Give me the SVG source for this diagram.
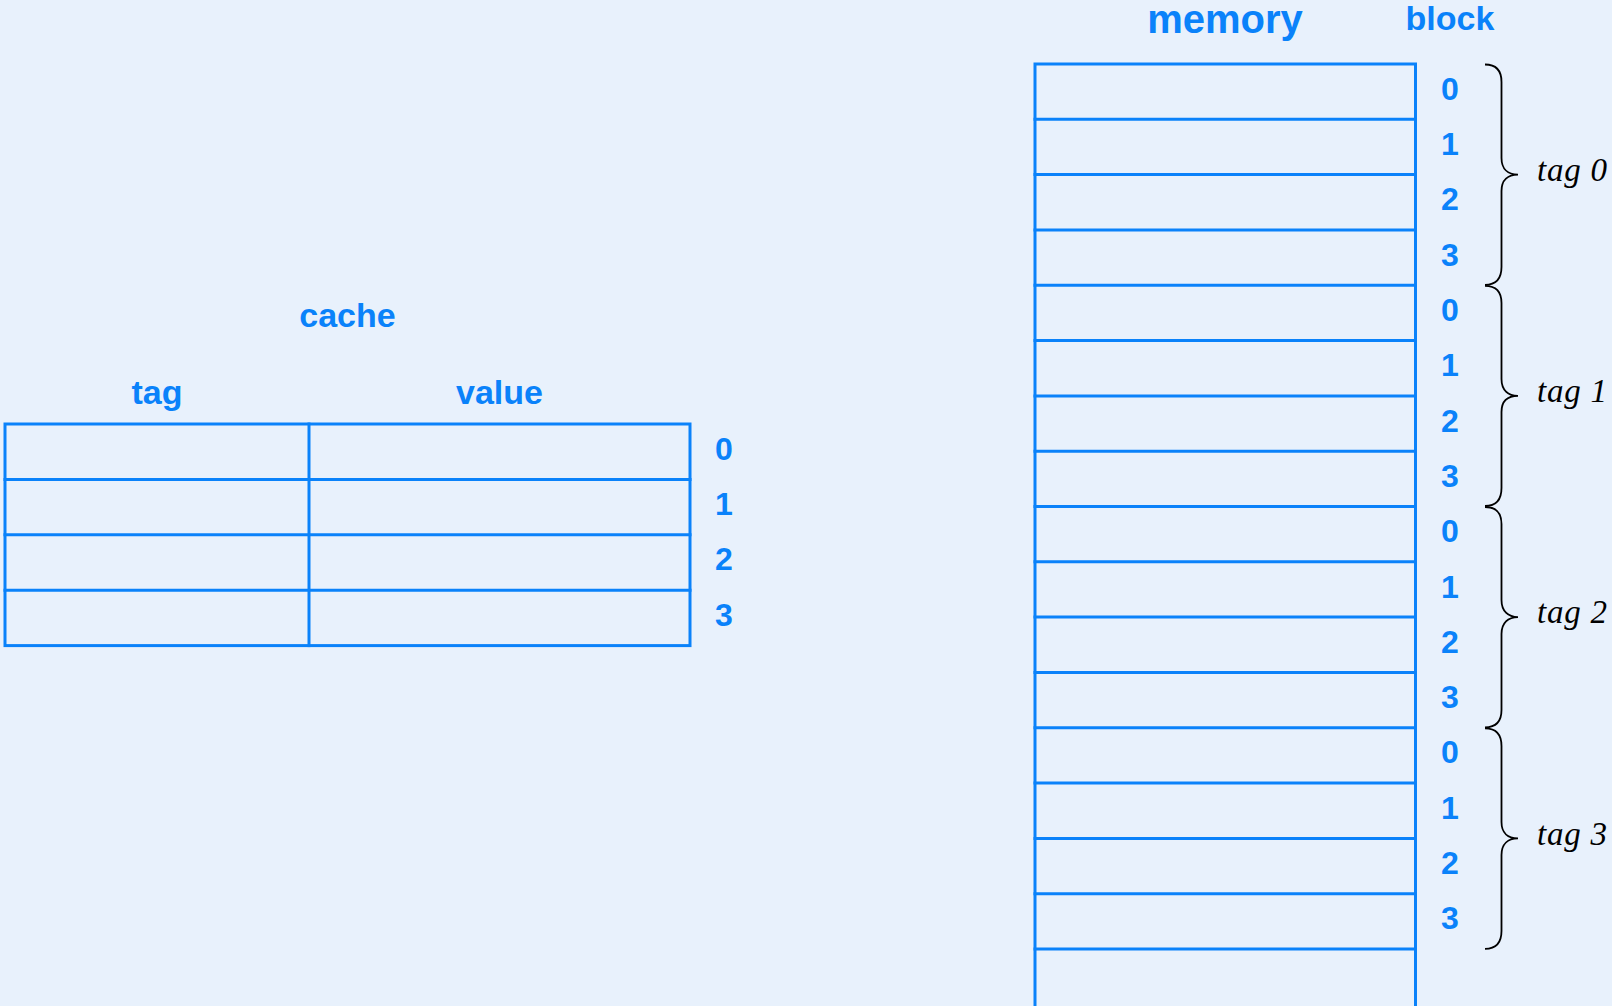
<svg xmlns="http://www.w3.org/2000/svg" width="1612" height="1006" viewBox="0 0 1612 1006">
<style>
.bl{stroke:#0a82fa;stroke-width:3;fill:none;stroke-linecap:square}
.t{font-family:"Liberation Sans",Arial,sans-serif;font-weight:bold;fill:#0a82fa;text-anchor:middle}
.d{font-size:32px}
.br{stroke:#000;stroke-width:1.8;fill:none}
.tl{font-family:"Liberation Serif","Times New Roman",serif;font-style:italic;font-size:33px;fill:#000}
</style>
<rect width="1612" height="1006" fill="#e8f1fc"/>
<g id="cache">
<text class="t" x="347.5" y="327" font-size="34">cache</text>
<text class="t" x="157" y="404" font-size="34">tag</text>
<text class="t" x="499.5" y="404" font-size="34">value</text>
<rect class="bl" x="5" y="424" width="685" height="221.6"/>
<line class="bl" x1="309" y1="424" x2="309" y2="645.6"/>
<line class="bl" x1="5" y1="479.4" x2="690" y2="479.4"/>
<line class="bl" x1="5" y1="534.8" x2="690" y2="534.8"/>
<line class="bl" x1="5" y1="590.2" x2="690" y2="590.2"/>
<g class="t d">
<text x="724" y="459.5">0</text>
<text x="724" y="515">1</text>
<text x="724" y="570.4">2</text>
<text x="724" y="625.8">3</text>
</g>
</g>
<g id="memory">
<text class="t" x="1225" y="33" font-size="40">memory</text>
<text class="t" x="1450" y="30" font-size="34">block</text>
<path class="bl" d="M1035,1010 V64 H1415.5 V1010"/>
<g class="bl">
<line x1="1035" y1="119.3" x2="1415.5" y2="119.3"/>
<line x1="1035" y1="174.6" x2="1415.5" y2="174.6"/>
<line x1="1035" y1="229.9" x2="1415.5" y2="229.9"/>
<line x1="1035" y1="285.3" x2="1415.5" y2="285.3"/>
<line x1="1035" y1="340.6" x2="1415.5" y2="340.6"/>
<line x1="1035" y1="395.9" x2="1415.5" y2="395.9"/>
<line x1="1035" y1="451.2" x2="1415.5" y2="451.2"/>
<line x1="1035" y1="506.5" x2="1415.5" y2="506.5"/>
<line x1="1035" y1="561.8" x2="1415.5" y2="561.8"/>
<line x1="1035" y1="617.1" x2="1415.5" y2="617.1"/>
<line x1="1035" y1="672.4" x2="1415.5" y2="672.4"/>
<line x1="1035" y1="727.8" x2="1415.5" y2="727.8"/>
<line x1="1035" y1="783.1" x2="1415.5" y2="783.1"/>
<line x1="1035" y1="838.4" x2="1415.5" y2="838.4"/>
<line x1="1035" y1="893.7" x2="1415.5" y2="893.7"/>
<line x1="1035" y1="949" x2="1415.5" y2="949"/>
</g>
<g class="t d">
<text x="1450" y="99.7">0</text>
<text x="1450" y="155">1</text>
<text x="1450" y="210.3">2</text>
<text x="1450" y="265.6">3</text>
<text x="1450" y="320.9">0</text>
<text x="1450" y="376.2">1</text>
<text x="1450" y="431.5">2</text>
<text x="1450" y="486.9">3</text>
<text x="1450" y="542.2">0</text>
<text x="1450" y="597.5">1</text>
<text x="1450" y="652.8">2</text>
<text x="1450" y="708.1">3</text>
<text x="1450" y="763.4">0</text>
<text x="1450" y="818.7">1</text>
<text x="1450" y="874">2</text>
<text x="1450" y="929.4">3</text>
</g>
</g>
<g id="tag0">
<path class="br" d="M1485,64.5 C1496,64.5 1501.5,70 1501.5,82 L1501.5,158 C1501.5,169 1508,174.6 1518,174.6 C1508,174.6 1501.5,180 1501.5,191 L1501.5,267 C1501.5,279 1496,284.8 1485,284.8"/>
<text class="tl" x="1537" y="181" textLength="70">tag 0</text>
</g>
<g id="tag1">
<path class="br" d="M1485,285.8 C1496,285.8 1501.5,291 1501.5,303 L1501.5,379 C1501.5,390 1508,395.9 1518,395.9 C1508,395.9 1501.5,401 1501.5,412 L1501.5,488 C1501.5,500 1496,506 1485,506"/>
<text class="tl" x="1537" y="402" textLength="70">tag 1</text>
</g>
<g id="tag2">
<path class="br" d="M1485,507 C1496,507 1501.5,512 1501.5,524 L1501.5,600 C1501.5,611 1508,617.1 1518,617.1 C1508,617.1 1501.5,623 1501.5,634 L1501.5,710 C1501.5,722 1496,727.3 1485,727.3"/>
<text class="tl" x="1537" y="623" textLength="70">tag 2</text>
</g>
<g id="tag3">
<path class="br" d="M1485,728.3 C1496,728.3 1501.5,734 1501.5,746 L1501.5,822 C1501.5,833 1508,838.4 1518,838.4 C1508,838.4 1501.5,844 1501.5,855 L1501.5,931 C1501.5,943 1496,948.8 1485,948.8"/>
<text class="tl" x="1537" y="844.5" textLength="70">tag 3</text>
</g>
</svg>
